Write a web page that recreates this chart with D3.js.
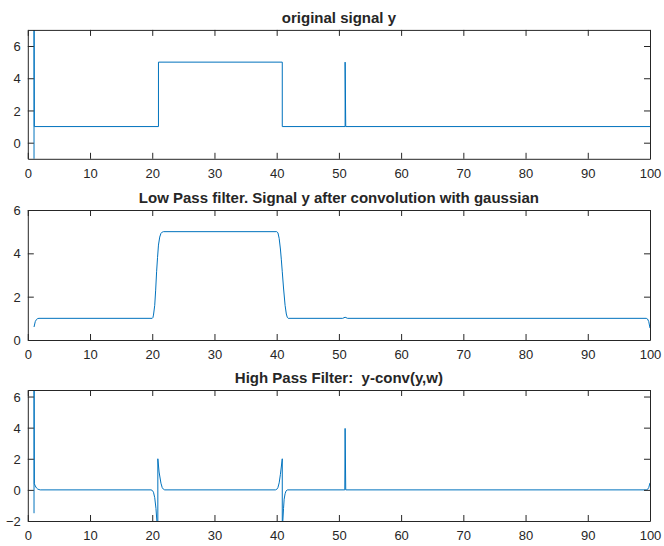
<!DOCTYPE html>
<html>
<head>
<meta charset="utf-8">
<script src="https://cdn.jsdelivr.net/npm/d3@7"></script>
<style>
  body { margin: 0; background: #fff; }
  text { font-family: "Liberation Sans", Arial, sans-serif; fill: #262626; }
</style>
</head>
<body>
<div id="chart"></div>
<script>
// panel titles
var titles = [ 'original signal y',
    'Low Pass filter. Signal y after convolution with gaussian',
    'High Pass Filter:  y-conv(y,w)' ];

// x ticks shared by all panels
var xTicks = [ 0, 10, 20, 30, 40, 50, 60, 70, 80, 90, 100 ];

// y ticks per panel
var yTicksOrig = [ 0, 2, 4, 6 ];
var yTicksLow  = [ 0, 2, 4, 6 ];
var yTicksHigh = [ -2, 0, 2, 4, 6 ];

// original signal y
var xOrig = [ 1, 1, 1.05, 21, 21, 40.9, 40.9, 51, 51, 51.1, 100 ];
var yOrig = [ -1.5, 10, 1, 1, 5, 5, 1, 1, 5, 1, 1 ];

// low pass: y convolved with gaussian
var xLow = [ 1, 1.2, 1.4, 1.6, 1.8,
    20.0, 20.1, 20.2, 20.4, 20.55, 20.7, 20.85, 21.0, 21.2, 21.4, 21.6, 21.8,
    40.0, 40.2, 40.4, 40.6, 40.75, 40.9, 41.1, 41.35, 41.55, 41.7, 41.85,
    50.6, 51, 51.4,
    99.4, 99.6, 99.8, 100 ];
var yLow = [ 0.6, 0.85, 0.95, 0.99, 1.0,
    1.0, 1.03, 1.15, 1.6, 2.3, 3.15, 3.8, 4.38, 4.75, 4.92, 4.98, 5.0,
    5.0, 4.95, 4.69, 4.2, 3.7, 3.15, 2.4, 1.6, 1.2, 1.05, 1.0,
    1.0, 1.05, 1.0,
    1.0, 0.97, 0.85, 0.55 ];

// high pass: y - conv(y,w)
var xHigh = [ 1, 1, 1.05, 1.2, 1.4, 1.6, 1.8, 2.0,
    19.8, 20.0, 20.2, 20.4, 20.6, 20.8, 20.9, 20.9, 21.1, 21.4, 21.6, 21.8, 22.0,
    39.8, 40.0, 40.2, 40.4, 40.6, 40.9, 40.9, 41.1, 41.2, 41.35, 41.5, 41.7,
    50.95, 51, 51.1,
    99.4, 99.6, 99.8, 100 ];
var yHigh = [ -1.5, 10, 0.4, 0.25, 0.12, 0.05, 0.02, 0,
    0, -0.03, -0.15, -0.5, -1.2, -2.3, -2.8, 2.0, 1.15, 0.43, 0.15, 0.04, 0,
    0, 0.03, 0.15, 0.45, 1.0, 2.0, -2.6, -1.2, -0.6, -0.25, -0.08, 0,
    0, 3.95, 0,
    0, 0.03, 0.15, 0.45 ];

var svgContainer;
var lineColor = '#0072bd';
var axisColor = '#262626';
var xLeft = 27.8, xRight = 650;

function initChart (id) {
    svgContainer = d3.select('#' + id).append('svg')
        .attr('width', 664)
        .attr('height', 546);
}

function drawPanel (idx, top, bottom, yDomain, yTicks, xs, ys) {
    var x = d3.scaleLinear().domain([0, 100]).range([xLeft, xRight]);
    var y = d3.scaleLinear().domain(yDomain).range([bottom, top]);
    var tick = 6;
    var fmt = d3.format('d');

    var g = svgContainer.append('g');

    // clip so spikes stop at the box
    var clipId = 'clip' + idx;
    g.append('clipPath').attr('id', clipId)
        .append('rect')
        .attr('x', xLeft).attr('y', top)
        .attr('width', xRight - xLeft).attr('height', bottom - top);

    var pts = xs.map(function (d, i) { return [d, ys[i]]; });
    var line = d3.line()
        .x(function (d) { return x(d[0]); })
        .y(function (d) { return y(d[1]); });

    g.append('path')
        .datum(pts)
        .attr('clip-path', 'url(#' + clipId + ')')
        .attr('d', line)
        .attr('fill', 'none')
        .attr('stroke', lineColor)
        .attr('stroke-width', 1)
        .attr('stroke-linejoin', 'round');

    // axes: bottom, top, left, right with inward ticks
    var axB = d3.axisBottom(x).tickValues(xTicks).tickFormat(fmt).tickSizeInner(-tick).tickSizeOuter(0).tickPadding(10);
    var axT = d3.axisTop(x).tickValues(xTicks).tickSizeInner(-tick).tickSizeOuter(0).tickFormat('');
    var axL = d3.axisLeft(y).tickValues(yTicks).tickFormat(fmt).tickSizeInner(-tick).tickSizeOuter(0).tickPadding(13);
    var axR = d3.axisRight(y).tickValues(yTicks).tickSizeInner(-tick).tickSizeOuter(0).tickFormat('');

    var gb = g.append('g').attr('transform', 'translate(0,' + bottom + ')').call(axB);
    var gt = g.append('g').attr('transform', 'translate(0,' + top + ')').call(axT);
    var gl = g.append('g').attr('transform', 'translate(' + xLeft + ',0)').call(axL);
    var gr = g.append('g').attr('transform', 'translate(' + xRight + ',0)').call(axR);

    [gb, gt, gl, gr].forEach(function (a) {
        a.select('.domain').attr('stroke', axisColor).attr('stroke-width', 1);
        a.selectAll('.tick line').attr('stroke', axisColor).attr('stroke-width', 1);
        a.selectAll('text')
            .attr('fill', axisColor)
            .attr('font-size', 13)
            .attr('font-family', '"Liberation Sans", Arial, sans-serif');
    });
    gl.selectAll('.tick text').attr('x', -7).attr('dy', '0.35em');

    // title
    svgContainer.append('text')
        .attr('x', (xLeft + xRight) / 2)
        .attr('y', top - 7)
        .attr('text-anchor', 'middle')
        .attr('font-size', 15)
        .attr('font-weight', 'bold')
        .attr('fill', '#000')
        .style('white-space', 'pre')
        .text(titles[idx]);
}

initChart('chart');
drawPanel(0, 29.9, 158.8, [-1, 7], yTicksOrig, xOrig, yOrig);
drawPanel(1, 210, 340, [0, 6], yTicksLow, xLow, yLow);
drawPanel(2, 390, 521, [-2, 6.42], yTicksHigh, xHigh, yHigh);
</script>
</body>
</html>
